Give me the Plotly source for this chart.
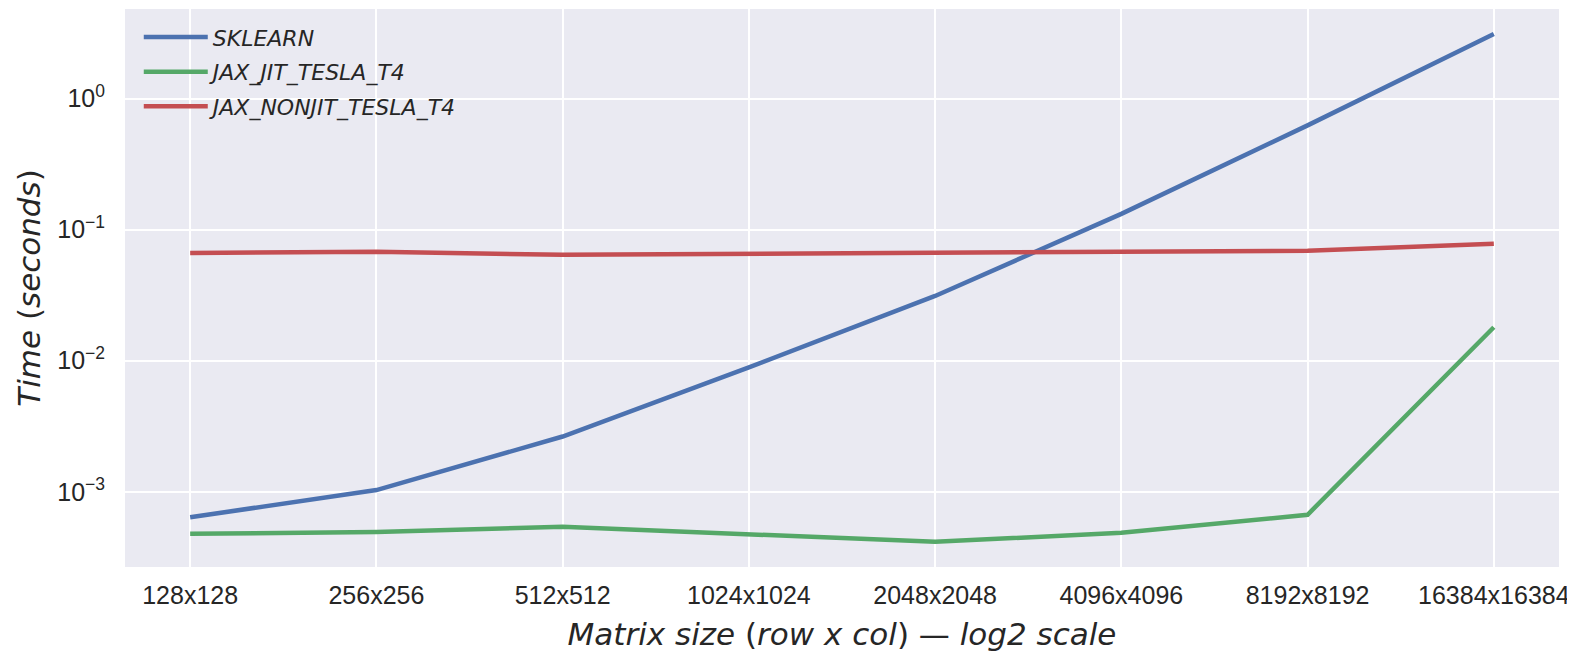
import plotly.graph_objects as go

categories = ["128x128", "256x256", "512x512", "1024x1024", "2048x2048",
              "4096x4096", "8192x8192", "16384x16384"]
sklearn = [6.4e-4, 1.03e-3, 2.64e-3, 8.9e-3, 0.0312, 0.132, 0.625, 3.11]
jax_jit = [4.78e-4, 4.94e-4, 5.4e-4, 4.69e-4, 4.15e-4, 4.86e-4, 6.68e-4, 0.0180]
jax_nonjit = [0.0665, 0.0678, 0.0643, 0.0654, 0.0678, 0.0678, 0.0690, 0.078]

series_names = ["SKLEARN", "JAX_JIT_TESLA_T4", "JAX_NONJIT_TESLA_T4"]
series_values = [sklearn, jax_jit, jax_nonjit]
colors = ["#4C72B0", "#55A868", "#C44E52"]

ytick_vals = [1, 0.1, 0.01, 0.001]
ytick_text = ["10<sup>0</sup>", "10<sup>\u22121</sup>", "10<sup>\u22122</sup>", "10<sup>\u22123</sup>"]

fig = go.Figure()
xs = list(range(len(categories)))
for name, vals, c in zip(series_names, series_values, colors):
    fig.add_trace(go.Scatter(
        x=xs, y=vals, mode="lines", name=name, legendgroup=name,
        line=dict(color=c, width=4.5),
    ))

xtick_font = dict(family="Liberation Sans, Arial", size=25, color="#262626")
ytick_font = dict(family="Liberation Sans, Arial", size=25, color="#262626")
title_font = dict(family="DejaVu Sans", size=31, color="#262626")

# page has an 8px body margin, so the figure is sized to fit the window
fig.update_layout(
    width=1567, height=644,
    margin=dict(l=117, r=16, t=1, b=85),
    paper_bgcolor="white",
    plot_bgcolor="#EAEAF2",
    showlegend=True,
    legend=dict(
        x=0.0096, y=0.987, xanchor="left", yanchor="top",
        bgcolor="rgba(0,0,0,0)",
        font=dict(family="DejaVu Sans", size=22, color="#262626", style="italic"),
        tracegroupgap=3,
        traceorder="grouped",
        itemwidth=64,
    ),
    xaxis=dict(
        tickmode="array", tickvals=xs, ticktext=categories,
        range=[-0.35, 7.35],
        showgrid=True, gridcolor="white", gridwidth=2,
        zeroline=False, showline=False,
        ticks="outside", ticklen=6, tickcolor="rgba(0,0,0,0)",
        tickfont=xtick_font,
        ticklabeloverflow="allow",
        automargin=False,
        title=dict(text="<i>Matrix</i> <i>size</i> (<i>row</i> <i>x</i> <i>col</i>) \u2014 <i>log2</i> <i>scale</i>",
                   font=title_font, standoff=16),
    ),
    yaxis=dict(
        type="log",
        range=[-3.574, 0.684],
        tickmode="array", tickvals=ytick_vals, ticktext=ytick_text,
        showgrid=True, gridcolor="white", gridwidth=2,
        zeroline=False, showline=False,
        ticks="outside", ticklen=14, tickcolor="rgba(0,0,0,0)",
        tickfont=ytick_font,
        automargin=False,
        title=dict(text="<i>Time</i> (<i>seconds</i>)", font=title_font, standoff=7),
    ),
)

fig.write_html("out.html")
